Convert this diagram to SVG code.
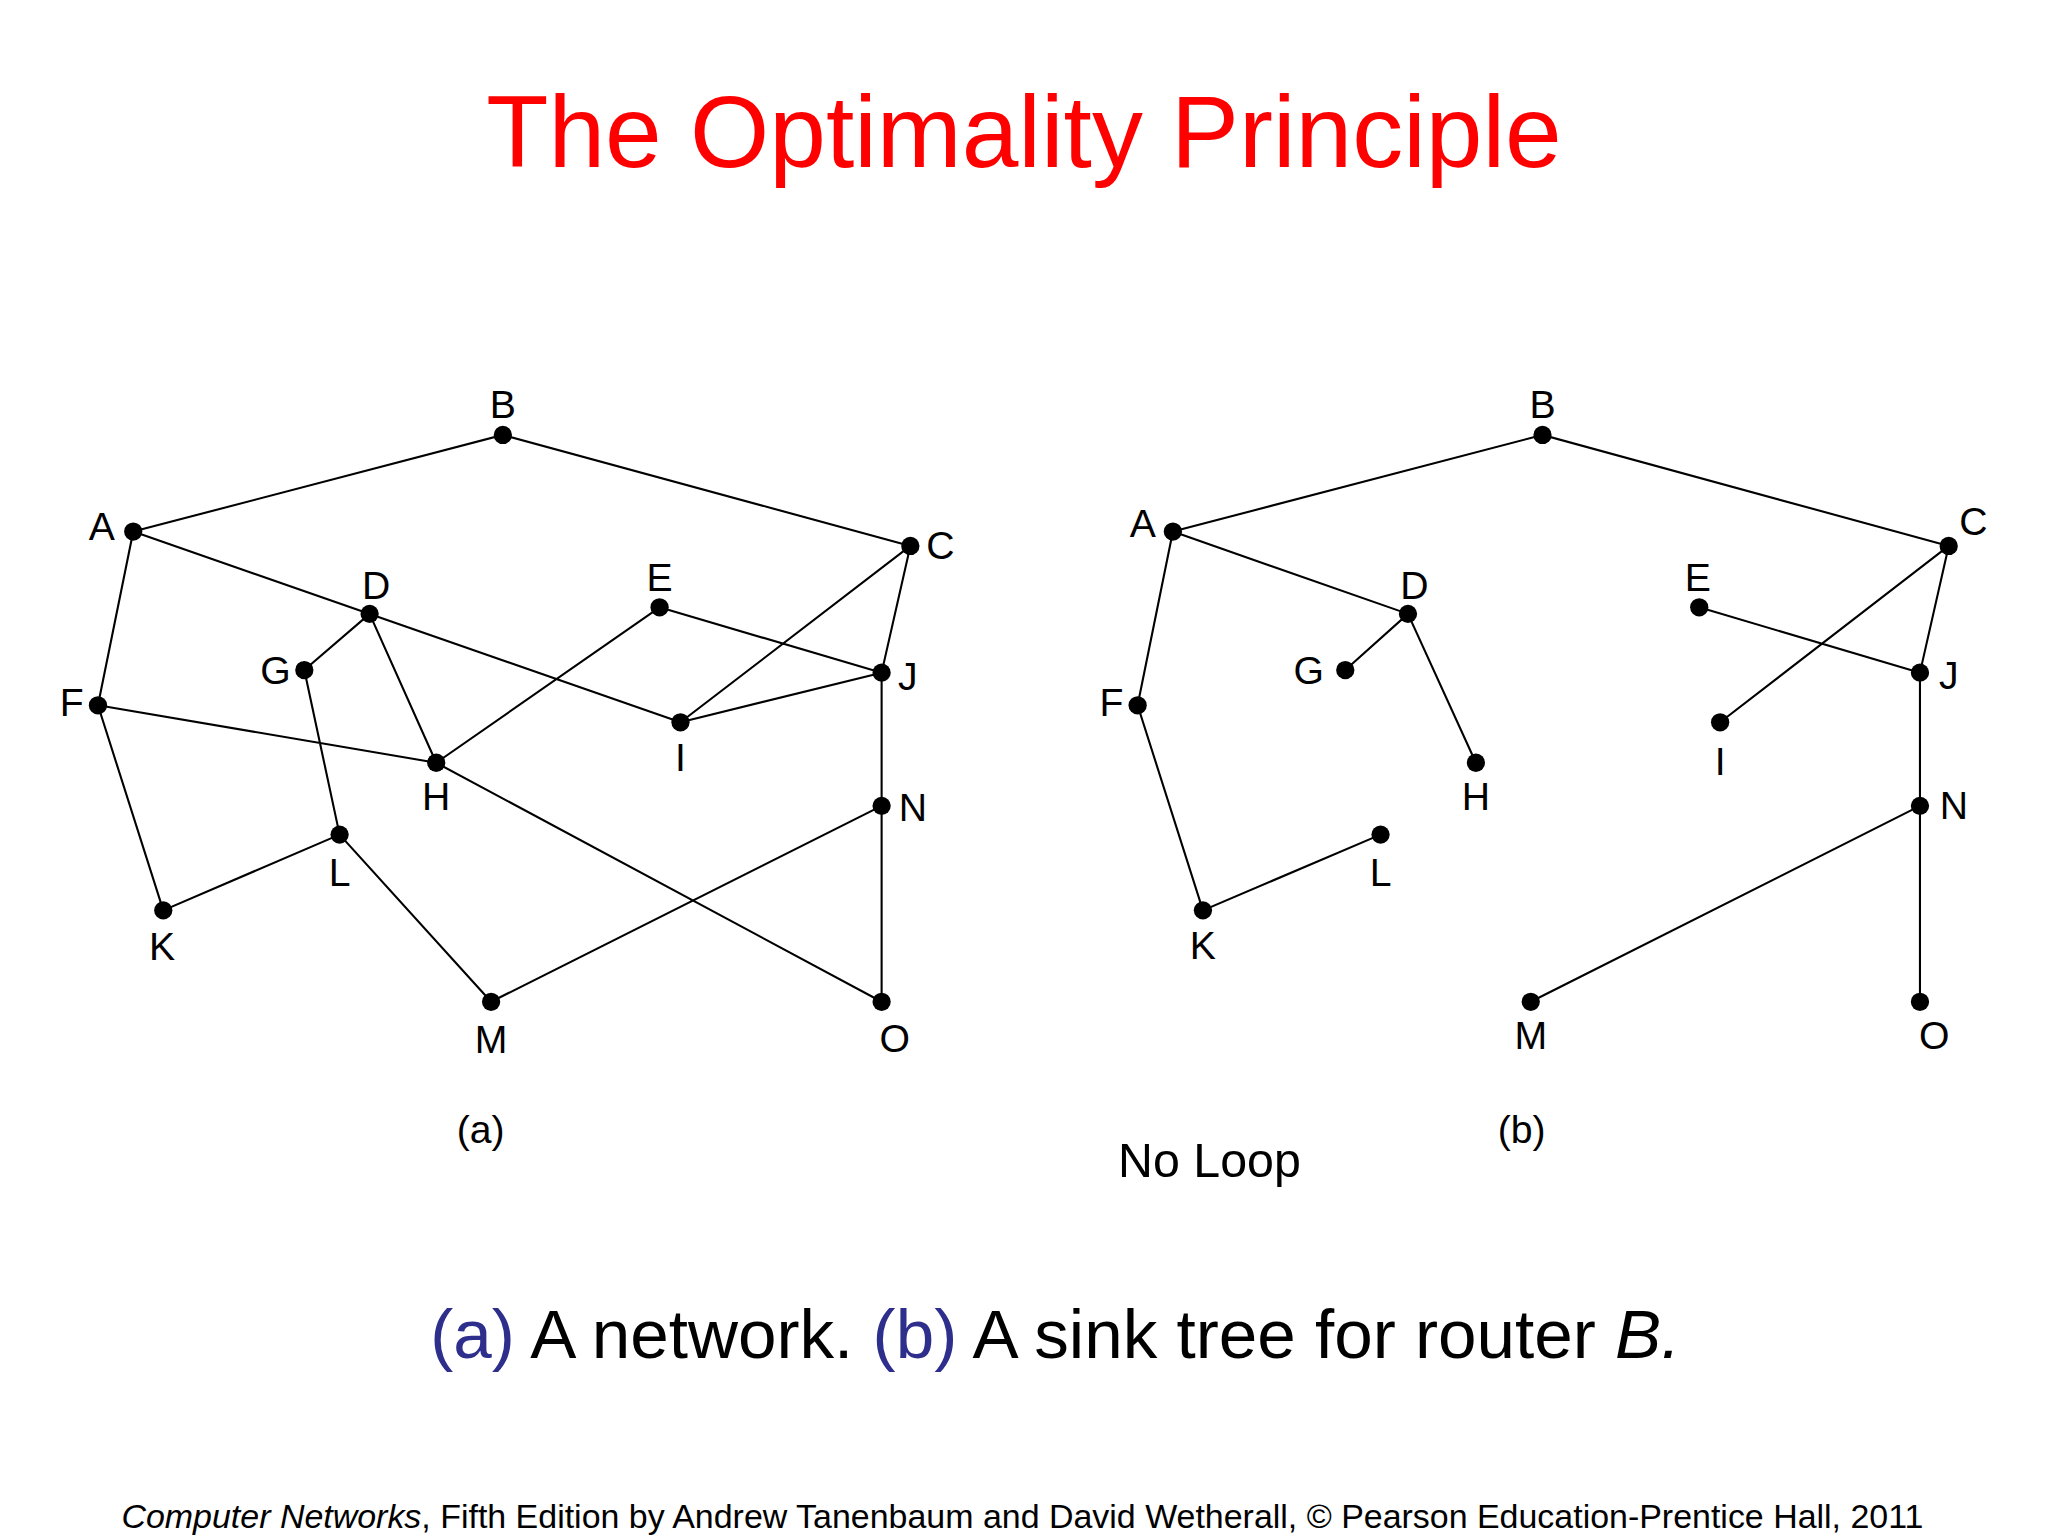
<svg xmlns="http://www.w3.org/2000/svg" width="2048" height="1536" viewBox="0 0 2048 1536">
<style>
.e{stroke:#000;stroke-width:1.6;fill:none}
.n{fill:#000}
.l{font-family:"Liberation Sans",Arial,sans-serif;font-size:30px;text-anchor:middle;dominant-baseline:central;fill:#000}
</style>
<rect width="2048" height="1536" fill="#fff"/>
<g transform="scale(1.3061)">
<text x="784" y="128" font-family="Liberation Sans,Arial,sans-serif" font-size="78" fill="#ff0000" text-anchor="middle">The Optimality Principle</text>
<g id="connectors">
<path class="e" d="M102,407L385,333L697,418 M102,407L75,540 M102,407L521,553 M283,470L233,513 M283,470L334,584 M233,513L260,639 M75,540L334,584 M75,540L125,697 M125,697L260,639 M260,639L376,767 M334,584L505,465 M334,584L675,767 M505,465L675,515 M697,418L521,553 M697,418L675,515 M521,553L675,515 M675,515L675,767 M675,617L376,767"/>
<path class="e" d="M898,407L1181,333L1492,418 M898,407L1078,470 M898,407L871,540 M1078,470L1030,513 M1078,470L1130,584 M871,540L921,697 M921,697L1057,639 M1492,418L1317,553 M1492,418L1470,515 M1301,465L1470,515 M1470,515L1470,767 M1470,617L1172,767"/>
</g>
<g id="a-nodes">
<g id="aB"><circle class="n" cx="385" cy="333" r="7"/><text class="l" x="385" y="310">B</text></g>
<g id="aA"><circle class="n" cx="102" cy="407" r="7"/><text class="l" x="78" y="403">A</text></g>
<g id="aC"><circle class="n" cx="697" cy="418" r="7"/><text class="l" x="720" y="418">C</text></g>
<g id="aD"><circle class="n" cx="283" cy="470" r="7"/><text class="l" x="288" y="448">D</text></g>
<g id="aE"><circle class="n" cx="505" cy="465" r="7"/><text class="l" x="505" y="442">E</text></g>
<g id="aG"><circle class="n" cx="233" cy="513" r="7"/><text class="l" x="211" y="513">G</text></g>
<g id="aF"><circle class="n" cx="75" cy="540" r="7"/><text class="l" x="55" y="538">F</text></g>
<g id="aJ"><circle class="n" cx="675" cy="515" r="7"/><text class="l" x="695" y="518">J</text></g>
<g id="aI"><circle class="n" cx="521" cy="553" r="7"/><text class="l" x="521" y="580">I</text></g>
<g id="aH"><circle class="n" cx="334" cy="584" r="7"/><text class="l" x="334" y="610">H</text></g>
<g id="aN"><circle class="n" cx="675" cy="617" r="7"/><text class="l" x="699" y="618">N</text></g>
<g id="aL"><circle class="n" cx="260" cy="639" r="7"/><text class="l" x="260" y="668">L</text></g>
<g id="aK"><circle class="n" cx="125" cy="697" r="7"/><text class="l" x="124" y="725">K</text></g>
<g id="aM"><circle class="n" cx="376" cy="767" r="7"/><text class="l" x="376" y="796">M</text></g>
<g id="aO"><circle class="n" cx="675" cy="767" r="7"/><text class="l" x="685" y="795">O</text></g>
</g>
<g id="b-nodes">
<g id="bB"><circle class="n" cx="1181" cy="333" r="7"/><text class="l" x="1181" y="310">B</text></g>
<g id="bA"><circle class="n" cx="898" cy="407" r="7"/><text class="l" x="875" y="401">A</text></g>
<g id="bC"><circle class="n" cx="1492" cy="418" r="7"/><text class="l" x="1511" y="399">C</text></g>
<g id="bD"><circle class="n" cx="1078" cy="470" r="7"/><text class="l" x="1083" y="448">D</text></g>
<g id="bE"><circle class="n" cx="1301" cy="465" r="7"/><text class="l" x="1300" y="442">E</text></g>
<g id="bG"><circle class="n" cx="1030" cy="513" r="7"/><text class="l" x="1002" y="513">G</text></g>
<g id="bF"><circle class="n" cx="871" cy="540" r="7"/><text class="l" x="851" y="538">F</text></g>
<g id="bJ"><circle class="n" cx="1470" cy="515" r="7"/><text class="l" x="1492" y="517">J</text></g>
<g id="bI"><circle class="n" cx="1317" cy="553" r="7"/><text class="l" x="1317" y="583">I</text></g>
<g id="bH"><circle class="n" cx="1130" cy="584" r="7"/><text class="l" x="1130" y="610">H</text></g>
<g id="bN"><circle class="n" cx="1470" cy="617" r="7"/><text class="l" x="1496" y="617">N</text></g>
<g id="bL"><circle class="n" cx="1057" cy="639" r="7"/><text class="l" x="1057" y="668">L</text></g>
<g id="bK"><circle class="n" cx="921" cy="697" r="7"/><text class="l" x="921" y="724">K</text></g>
<g id="bM"><circle class="n" cx="1172" cy="767" r="7"/><text class="l" x="1172" y="793">M</text></g>
<g id="bO"><circle class="n" cx="1470" cy="767" r="7"/><text class="l" x="1481" y="793">O</text></g>
</g>
<text class="l" x="368" y="865" font-size="28">(a)</text>
<text class="l" x="1165" y="865" font-size="28">(b)</text>
<text class="l" x="926" y="888" style="font-size:37px">No Loop</text>
<text x="808" y="1040" font-family="Liberation Sans,Arial,sans-serif" font-size="53" text-anchor="middle"><tspan fill="#2e2e8c">(a)</tspan> A network. <tspan fill="#2e2e8c">(b)</tspan> A sink tree for router <tspan font-style="italic">B.</tspan></text>
<text x="93" y="1170" font-family="Liberation Sans,Arial,sans-serif" font-size="26"><tspan font-style="italic">Computer Networks</tspan>, Fifth Edition by Andrew Tanenbaum and David Wetherall, © Pearson Education-Prentice Hall, 2011</text>
</g>
</svg>
